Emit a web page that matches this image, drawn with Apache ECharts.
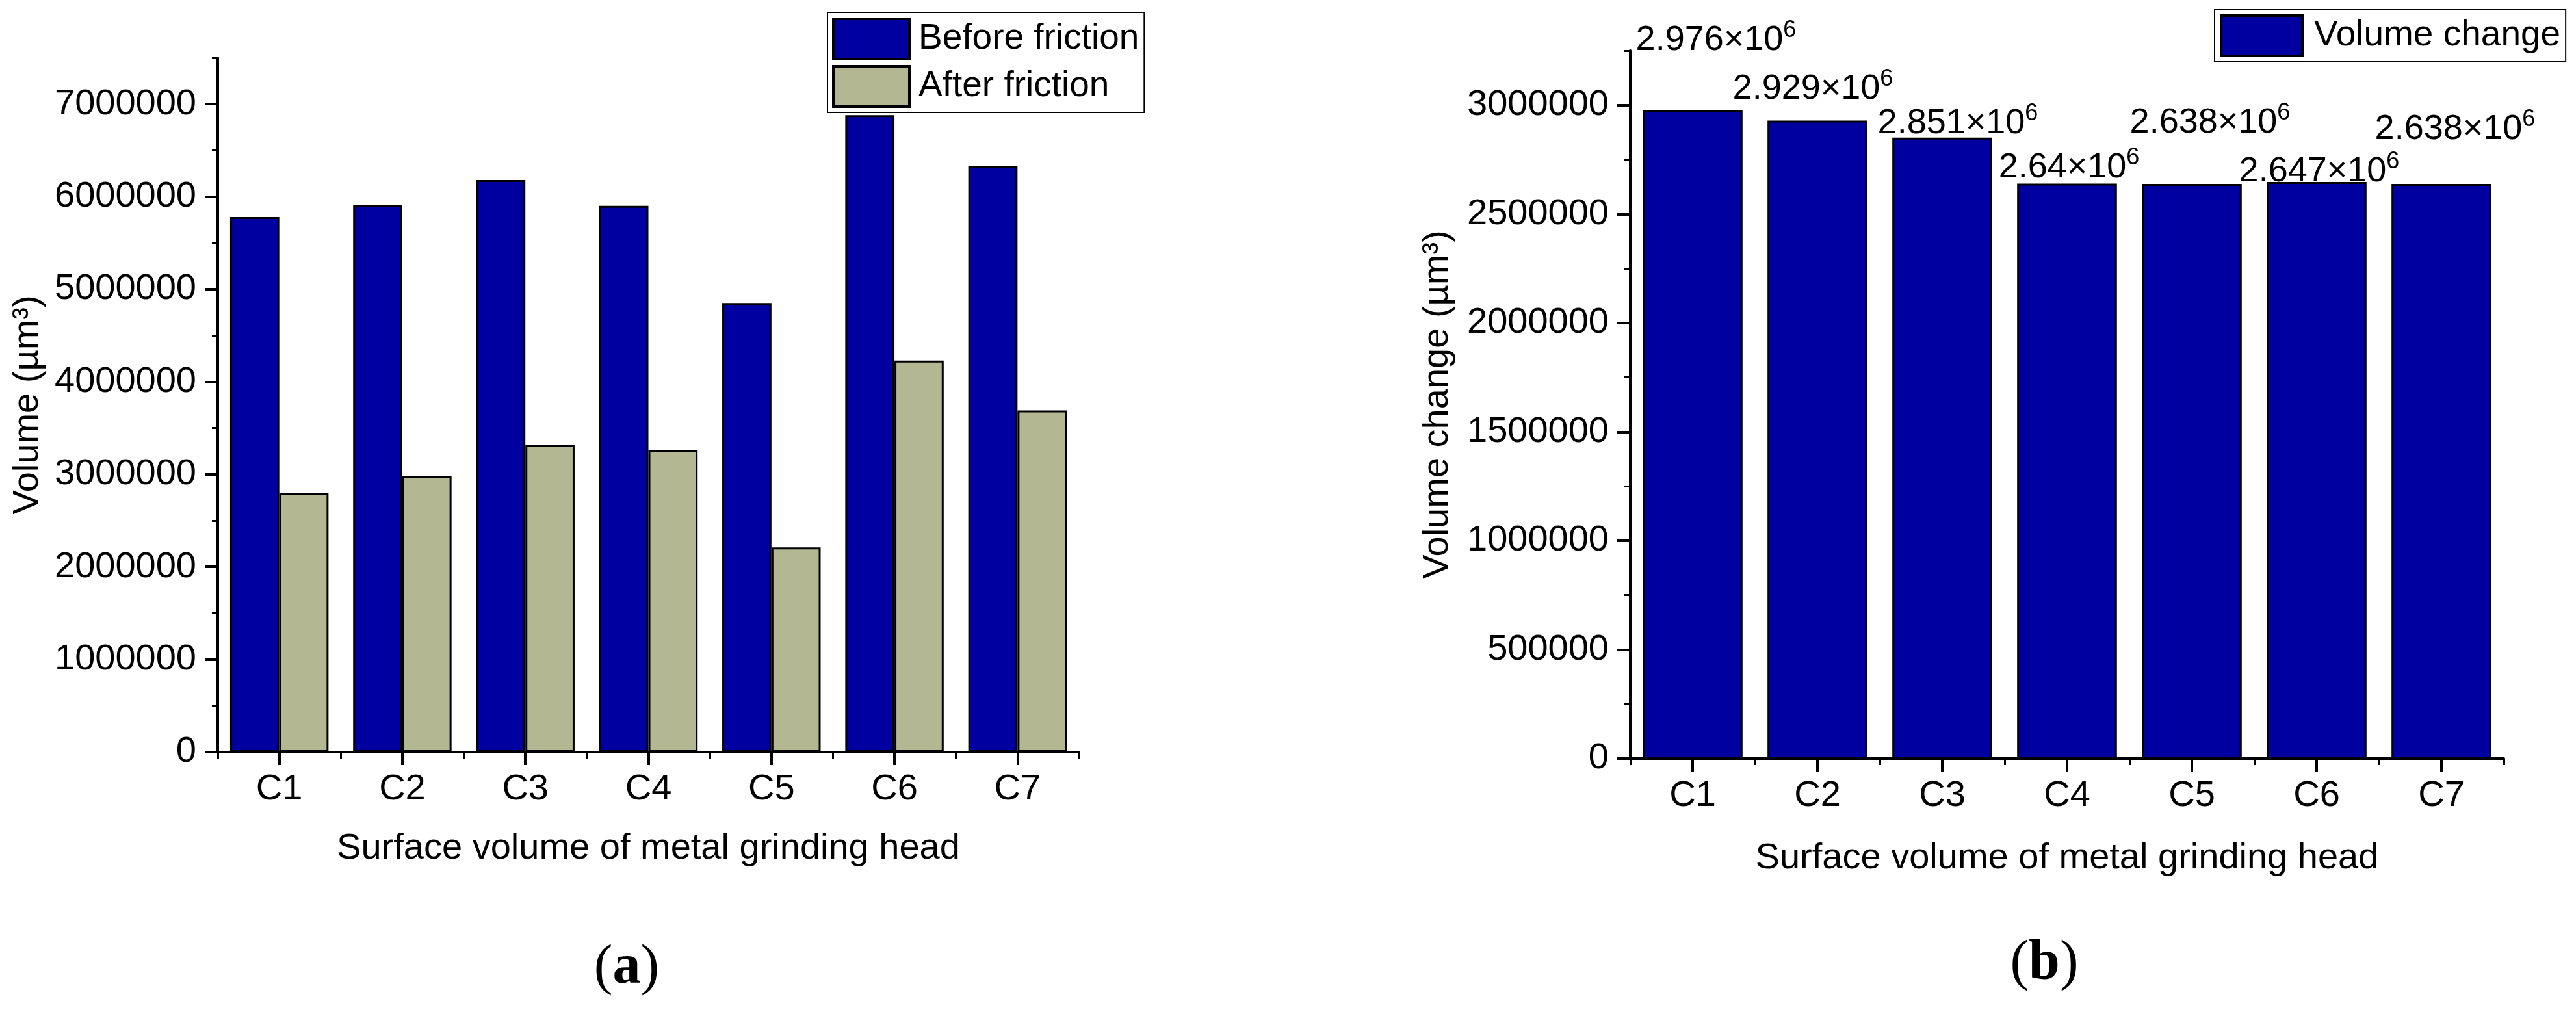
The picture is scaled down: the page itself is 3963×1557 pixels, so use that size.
<!DOCTYPE html>
<html><head><meta charset="utf-8">
<script src="https://cdn.jsdelivr.net/npm/echarts@6/dist/echarts.min.js"></script>
<style>html,body{margin:0;padding:0;background:#fff}#c{width:3963px;height:1557px}</style>
</head><body><div id="c"></div>
<script>
// ---- data ----
const categories = ['C1', 'C2', 'C3', 'C4', 'C5', 'C6', 'C7'];
const beforeFriction = [5780000, 5910000, 6180000, 5900000, 4850000, 6880000, 6330000];
const afterFriction = [2800000, 2980000, 3320000, 3260000, 2210000, 4230000, 3690000];
const volumeChange = [2976000, 2929000, 2851000, 2640000, 2638000, 2647000, 2638000];
const yTicksA = [0, 1000000, 2000000, 3000000, 4000000, 5000000, 6000000, 7000000];
const yTicksB = [0, 500000, 1000000, 1500000, 2000000, 2500000, 3000000];

// label placement for panel (b) (manual, as in the original figure)
const labelOffsetsB = [[36, -81], [-7, -21], [24, 5], [3, 3], [28, -67], [4, 11], [21, -57]];

const FONT = 'Liberation Sans, Arial, sans-serif';
const BLUE = '#0000A0';
const KHAKI = '#B3B893';
const black = '#000';

function mainX(grid, nameGap) {
  return {
    type: 'category', gridIndex: grid, data: categories, boundaryGap: true, position: 'bottom',
    axisLine: { show: true, lineStyle: { color: black, width: 4 } },
    axisTick: { show: true, alignWithLabel: true, inside: false, length: 20, lineStyle: { color: black, width: 4 } },
    axisLabel: { show: true, fontSize: 56, fontFamily: FONT, color: black, margin: 30 },
    splitLine: { show: false },
    name: 'Surface volume of metal grinding head', nameLocation: 'middle', nameGap: nameGap,
    nameTextStyle: { fontSize: 56, fontFamily: FONT, color: black }
  };
}
function minorX(grid) {
  return {
    type: 'category', gridIndex: grid, data: categories, boundaryGap: true, position: 'bottom',
    axisLine: { show: false },
    axisTick: { show: true, alignWithLabel: false, inside: false, length: 10, lineStyle: { color: black, width: 3 } },
    axisLabel: { show: false }, splitLine: { show: false }
  };
}
function mainY(grid, max, ticks, name, nameGap) {
  return {
    type: 'value', gridIndex: grid, min: 0, max: max, position: 'left',
    interval: ticks[1] - ticks[0],
    axisLine: { show: true, lineStyle: { color: black, width: 4 } },
    axisTick: { show: true, inside: false, length: 20, customValues: ticks, lineStyle: { color: black, width: 4 } },
    axisLabel: { show: true, customValues: ticks, fontSize: 56, fontFamily: FONT, color: black, margin: 33,
      formatter: v => String(v) },
    splitLine: { show: false },
    name: name, nameLocation: 'middle', nameGap: nameGap,
    nameTextStyle: { fontSize: 56, fontFamily: FONT, color: black }
  };
}
function minorY(grid, max, step) {
  return {
    type: 'value', gridIndex: grid, min: 0, max: max, interval: step, position: 'left',
    axisLine: { show: false },
    axisTick: { show: true, inside: false, length: 9, lineStyle: { color: black, width: 3 } },
    axisLabel: { show: false }, splitLine: { show: false }
  };
}

const chart = echarts.init(document.getElementById('c'), null, { renderer: 'canvas' });

const option = {
  backgroundColor: '#fff',
  animation: false,
  grid: [
    { left: 335, top: 89, width: 1325, height: 1068, containLabel: false },
    { left: 2508, top: 78, width: 1344, height: 1089, containLabel: false }
  ],
  xAxis: [mainX(0, 121), minorX(0), mainX(1, 126), minorX(1)],
  yAxis: [
    mainY(0, 7500000, yTicksA, 'Volume (µm³)', 264),
    minorY(0, 7500000, 500000),
    mainY(1, 3250000, yTicksB, 'Volume change (µm³)', 268),
    minorY(1, 3250000, 250000)
  ],
  legend: [
    {
      data: ['Before friction', 'After friction'], orient: 'vertical', left: 1273, top: 19,
      padding: [8, 8, 7, 7], itemGap: 7, itemWidth: 117, itemHeight: 62,
      borderColor: black, borderWidth: 2, backgroundColor: '#fff', selectedMode: false,
      icon: 'rect', itemStyle: { borderColor: black, borderWidth: 4 },
      textStyle: { fontSize: 55, fontFamily: FONT, color: black, padding: [0, 0, 0, 9] }
    },
    {
      data: ['Volume change'], orient: 'vertical', left: 3407, top: 15,
      padding: [7, 8, 7, 8], itemGap: 7, itemWidth: 125, itemHeight: 62,
      borderColor: black, borderWidth: 2, backgroundColor: '#fff', selectedMode: false,
      icon: 'rect', itemStyle: { borderColor: black, borderWidth: 4 },
      textStyle: { fontSize: 55, fontFamily: FONT, color: black, padding: [0, 0, 0, 13] }
    }
  ],
  series: [
    {
      name: 'Before friction', type: 'bar', xAxisIndex: 0, yAxisIndex: 0,
      data: beforeFriction, barGap: '0%', barCategoryGap: '20%',
      itemStyle: { color: BLUE, borderColor: black, borderWidth: 3 }
    },
    {
      name: 'After friction', type: 'bar', xAxisIndex: 0, yAxisIndex: 0,
      data: afterFriction, barGap: '0%', barCategoryGap: '20%',
      itemStyle: { color: KHAKI, borderColor: black, borderWidth: 3 }
    },
    {
      name: 'Volume change', type: 'bar', xAxisIndex: 2, yAxisIndex: 2,
      barCategoryGap: '20%',
      itemStyle: { color: BLUE, borderColor: black, borderWidth: 3 },
      data: volumeChange.map((v, i) => ({
        value: v,
        label: { offset: labelOffsetsB[i] }
      })),
      label: {
        show: true, position: 'top', distance: 0,
        formatter: p => '{m|' + String(p.value / 1e6) + '×10}{s|6}',
        rich: {
          m: { fontSize: 54, fontFamily: FONT, color: black, lineHeight: 60, verticalAlign: 'bottom' },
          s: { fontSize: 36, fontFamily: FONT, color: black, lineHeight: 24, verticalAlign: 'top' }
        }
      }
    }
  ],
  graphic: [
    {
      type: 'text', x: 964, y: 1490, silent: true,
      style: {
        text: '{p|(}{b|a}{p|)}', align: 'center', verticalAlign: 'middle',
        rich: {
          p: { fontSize: 86, fontFamily: 'Liberation Serif, Times New Roman, serif', fill: black },
          b: { fontSize: 86, fontFamily: 'Liberation Serif, Times New Roman, serif', fontWeight: 'bold', fill: black }
        }
      }
    },
    {
      type: 'text', x: 3145, y: 1483, silent: true,
      style: {
        text: '{p|(}{b|b}{p|)}', align: 'center', verticalAlign: 'middle',
        rich: {
          p: { fontSize: 86, fontFamily: 'Liberation Serif, Times New Roman, serif', fill: black },
          b: { fontSize: 86, fontFamily: 'Liberation Serif, Times New Roman, serif', fontWeight: 'bold', fill: black }
        }
      }
    }
  ]
};
chart.setOption(option);
</script>
</body></html>
